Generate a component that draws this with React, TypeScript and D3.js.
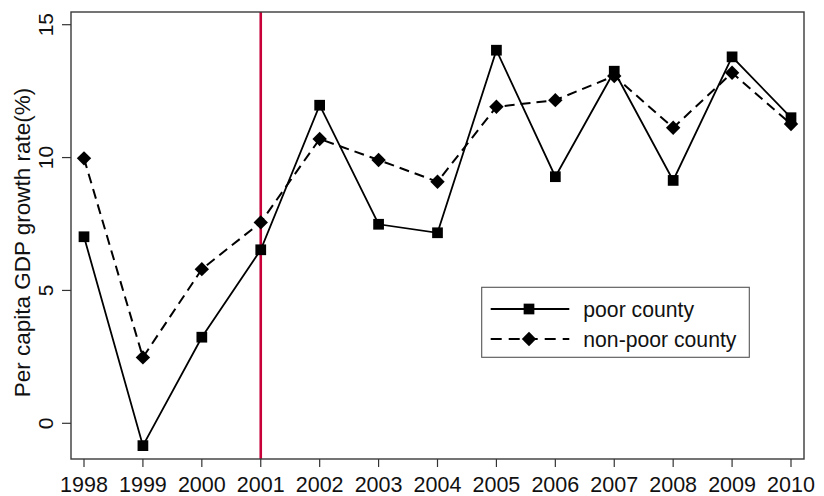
import { useRef, useEffect } from "react";
import * as d3 from "d3";

const years = [1998, 1999, 2000, 2001, 2002, 2003, 2004, 2005, 2006, 2007, 2008, 2009, 2010];
const poorCounty = [7.02, -0.84, 3.24, 6.53, 11.97, 7.49, 7.17, 14.04, 9.28, 13.25, 9.14, 13.79, 11.5];
const nonPoorCounty = [9.97, 2.48, 5.8, 7.56, 10.7, 9.91, 9.09, 11.91, 12.16, 13.07, 11.12, 13.19, 11.26];
const yTicks = [0, 5, 10, 15];
const policyYear = 2001;
const seriesNames = ["poor county", "non-poor county"];

const W = 824;
const H = 496;
const FONT = "'Liberation Sans', Arial, Helvetica, sans-serif";

const App = () => {
  const ref = useRef<SVGSVGElement | null>(null);

  useEffect(() => {
    if (!ref.current) return;
    const svg = d3.select(ref.current);
    svg.selectAll("*").remove();

    // plot frame
    const box = { left: 71, right: 804, top: 12, bottom: 459 };

    const x = d3.scaleLinear().domain([1998, 2010]).range([84, 791]);
    const y = d3.scaleLinear().domain([0, 15]).range([423.3, 24.7]);

    svg.append("rect").attr("width", W).attr("height", H).attr("fill", "#fff");

    // red reference line at 2001
    svg
      .append("line")
      .attr("x1", x(policyYear))
      .attr("x2", x(policyYear))
      .attr("y1", box.top)
      .attr("y2", box.bottom)
      .attr("stroke", "#c8003a")
      .attr("stroke-width", 2.6);

    // frame
    svg
      .append("rect")
      .attr("x", box.left)
      .attr("y", box.top)
      .attr("width", box.right - box.left)
      .attr("height", box.bottom - box.top)
      .attr("fill", "none")
      .attr("stroke", "#3a3a3a")
      .attr("stroke-width", 1.4);

    // x axis
    const xa = svg.append("g").attr("font-family", FONT).attr("font-size", 21.5);
    years.forEach((yr) => {
      xa.append("line")
        .attr("x1", x(yr))
        .attr("x2", x(yr))
        .attr("y1", box.bottom)
        .attr("y2", box.bottom + 8)
        .attr("stroke", "#333")
        .attr("stroke-width", 1.2);
      xa.append("text")
        .attr("x", x(yr))
        .attr("y", 491.5)
        .attr("text-anchor", "middle")
        .attr("fill", "#111")
        .text(String(yr));
    });

    // y axis
    const ya = svg.append("g").attr("font-family", FONT).attr("font-size", 21);
    yTicks.forEach((t) => {
      ya.append("line")
        .attr("x1", box.left)
        .attr("x2", box.left - 9)
        .attr("y1", y(t))
        .attr("y2", y(t))
        .attr("stroke", "#333")
        .attr("stroke-width", 1.2);
      ya.append("text")
        .attr("transform", `translate(53,${y(t)}) rotate(-90)`)
        .attr("text-anchor", "middle")
        .attr("fill", "#111")
        .text(String(t));
    });

    svg
      .append("text")
      .attr("transform", `translate(30,${(box.top + box.bottom) / 2 + 7}) rotate(-90)`)
      .attr("text-anchor", "middle")
      .attr("font-family", FONT)
      .attr("font-size", 22.5)
      .attr("fill", "#111")
      .text("Per capita GDP growth rate(%)");

    const line = d3
      .line<number>()
      .x((_, i) => x(years[i]))
      .y((d) => y(d));

    const square = d3.symbol().type(d3.symbolSquare).size(115);
    const diamond = (s: number) =>
      `M0,${-s}L${s},0L0,${s}L${-s},0Z`;

    // non-poor (dashed, diamonds)
    svg
      .append("path")
      .attr("d", line(nonPoorCounty) ?? "")
      .attr("fill", "none")
      .attr("stroke", "#000")
      .attr("stroke-width", 2)
      .attr("stroke-dasharray", "10,6");

    // poor (solid, squares)
    svg
      .append("path")
      .attr("d", line(poorCounty) ?? "")
      .attr("fill", "none")
      .attr("stroke", "#000")
      .attr("stroke-width", 1.8);

    svg
      .append("g")
      .selectAll("path")
      .data(nonPoorCounty)
      .join("path")
      .attr("transform", (d, i) => `translate(${x(years[i])},${y(d)})`)
      .attr("d", diamond(7.2))
      .attr("fill", "#000");

    svg
      .append("g")
      .selectAll("path")
      .data(poorCounty)
      .join("path")
      .attr("transform", (d, i) => `translate(${x(years[i])},${y(d)})`)
      .attr("d", square() ?? "")
      .attr("fill", "#000");

    // legend
    const lg = svg.append("g");
    lg.append("rect")
      .attr("x", 481.7)
      .attr("y", 287.3)
      .attr("width", 267.6)
      .attr("height", 70)
      .attr("fill", "#fff")
      .attr("stroke", "#555")
      .attr("stroke-width", 1.1);

    const rows = [309, 339];
    rows.forEach((ry, i) => {
      lg.append("line")
        .attr("x1", 490.7)
        .attr("x2", 569.3)
        .attr("y1", ry)
        .attr("y2", ry)
        .attr("stroke", "#000")
        .attr("stroke-width", i === 0 ? 1.8 : 2)
        .attr("stroke-dasharray", i === 0 ? null : "11,7");
      lg.append("path")
        .attr("transform", `translate(529,${ry})`)
        .attr("d", i === 0 ? square() ?? "" : diamond(7.2))
        .attr("fill", "#000");
      lg.append("text")
        .attr("x", 583.3)
        .attr("y", ry + 7.5)
        .attr("font-family", FONT)
        .attr("font-size", 21.2)
        .attr("fill", "#111")
        .text(seriesNames[i]);
    });
  }, []);

  return (
    <svg
      ref={ref}
      width={W}
      height={H}
      style={{ position: "absolute", left: 0, top: 0 }}
    />
  );
};

export default App;
